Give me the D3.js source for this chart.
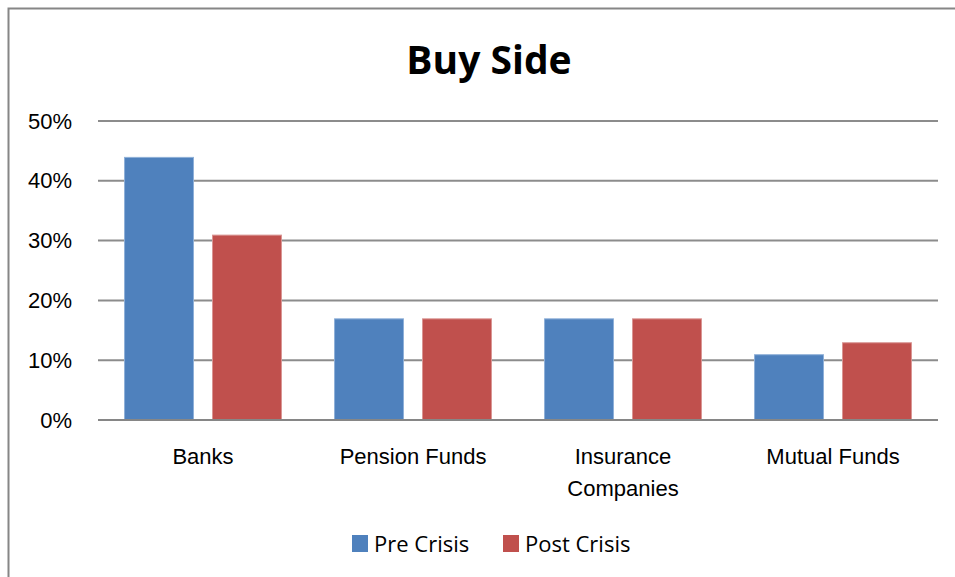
<!DOCTYPE html>
<html>
<head>
<meta charset="utf-8">
<script src="https://cdn.jsdelivr.net/npm/d3@7"></script>
<style>
  html, body { margin: 0; padding: 0; background: #fff; overflow: hidden; }
  svg { display: block; font-family: "Open Sans", "Noto Sans", sans-serif; }
</style>
</head>
<body>
<script>
// data
var categories = ["Banks", "Pension Funds", "Insurance Companies", "Mutual Funds"];
var categoryLines = [["Banks"], ["Pension Funds"], ["Insurance", "Companies"], ["Mutual Funds"]];
var seriesNames = ["Pre Crisis", "Post Crisis"];
var preCrisis = [0.44, 0.17, 0.17, 0.11];
var postCrisis = [0.31, 0.17, 0.17, 0.13];
var yTicks = [0, 0.1, 0.2, 0.3, 0.4, 0.5];
var colors = ["#4F81BD", "#C0504D"];
var edgeColors = ["#8fb0d8", "#d99593"];

var width = 955, height = 577;
var margin = {top: 121, right: 17, bottom: 157, left: 98},
    plotW = width - margin.left - margin.right,
    plotH = height - margin.top - margin.bottom;

var svg = d3.select("body").append("svg")
    .attr("width", width)
    .attr("height", height);

// chart frame (only top and left edges show in the window)
svg.append("rect")
    .attr("x", 8.5).attr("y", 8.5)
    .attr("width", 980).attr("height", 600)
    .attr("fill", "none")
    .attr("stroke", "#868686")
    .attr("stroke-width", 2);

// title
svg.append("text")
    .attr("x", 489).attr("y", 74)
    .attr("text-anchor", "middle")
    .style("font-size", "39px")
    .style("font-weight", "bold")
    .attr("fill", "#000")
    .text("Buy Side");

var g = svg.append("g")
    .attr("transform", "translate(" + margin.left + "," + margin.top + ")");

var yScale = d3.scaleLinear().domain([0, 0.5]).range([plotH, 0]);

var x0 = d3.scaleBand().domain(categories).range([0, plotW]).paddingInner(0.248).paddingOuter(0.124);
var x1 = d3.scaleBand().domain(seriesNames).range([0, x0.bandwidth()]).paddingInner(0.205);

// gridlines
g.append("g")
    .selectAll("line")
    .data(yTicks)
  .enter().append("line")
    .attr("x1", 0).attr("x2", plotW)
    .attr("y1", function(d) { return yScale(d); })
    .attr("y2", function(d) { return yScale(d); })
    .attr("stroke", "#8c8c8c")
    .attr("stroke-width", 2);

// y labels
var yAxis = d3.axisLeft(yScale).tickValues(yTicks).tickFormat(d3.format(".0%")).tickSize(0).tickPadding(26);
var yG = g.append("g").call(yAxis);
yG.select(".domain").remove();
yG.selectAll("text")
    .style("font-size", "22px")
    .attr("fill", "#000")
    .attr("font-family", null);

// bars
var rows = categories.map(function(c, i) {
  return {category: c, values: [preCrisis[i], postCrisis[i]]};
});

var groups = g.selectAll(".grp")
    .data(rows)
  .enter().append("g")
    .attr("class", "grp")
    .attr("transform", function(d) { return "translate(" + x0(d.category) + ",0)"; });

groups.selectAll("rect")
    .data(function(d) { return d.values.map(function(v, j) { return {series: seriesNames[j], value: v, j: j}; }); })
  .enter().append("rect")
    .attr("x", function(d) { return x1(d.series) + 0.5; })
    .attr("y", function(d) { return yScale(d.value) + 0.5; })
    .attr("width", x1.bandwidth() - 1)
    .attr("height", function(d) { return plotH - yScale(d.value) - 1; })
    .attr("fill", function(d) { return colors[d.j]; })
    .attr("stroke", function(d) { return edgeColors[d.j]; })
    .attr("stroke-width", 1);

// baseline axis
g.append("line")
    .attr("x1", 0).attr("x2", plotW)
    .attr("y1", plotH).attr("y2", plotH)
    .attr("stroke", "#868686")
    .attr("stroke-width", 2);

// category labels
var xAxis = d3.axisBottom(x0).tickSize(0).tickFormat("");
var xG = g.append("g").attr("transform", "translate(0," + plotH + ")").call(xAxis);
xG.select(".domain").remove();
xG.selectAll(".tick").each(function(d, i) {
  var t = d3.select(this).append("text")
      .attr("text-anchor", "middle")
      .attr("fill", "#000")
      .style("font-size", "22px");
  categoryLines[i].forEach(function(line, k) {
    t.append("tspan")
      .attr("x", 0)
      .attr("y", 44 + k * 32)
      .text(line);
  });
});

// legend
var legend = svg.append("g").attr("transform", "translate(352,535)");
var legendX = [0, 151];
var items = legend.selectAll("g")
    .data(seriesNames)
  .enter().append("g")
    .attr("transform", function(d, i) { return "translate(" + legendX[i] + ",0)"; });
items.append("rect")
    .attr("width", 16).attr("height", 17)
    .attr("fill", function(d, i) { return colors[i]; });
items.append("text")
    .attr("x", 22).attr("y", 17)
    .style("font-size", "22px")
    .attr("fill", "#000")
    .text(function(d) { return d; });
</script>
</body>
</html>
